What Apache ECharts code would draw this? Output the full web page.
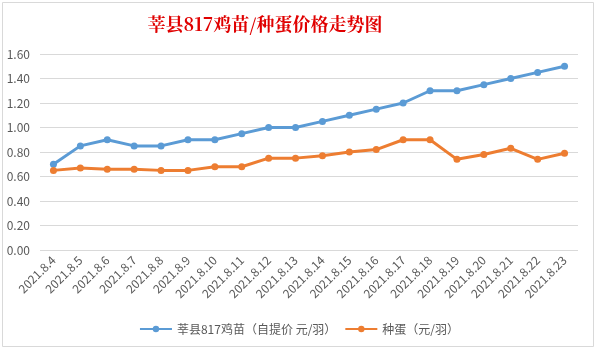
<!DOCTYPE html>
<html><head><meta charset="utf-8">
<script src="https://cdn.jsdelivr.net/npm/echarts@6/dist/echarts.min.js"></script>
<style>html,body{margin:0;padding:0;background:#fff}#c{width:598px;height:350px}</style>
</head><body><div id="c"></div>
<script>
var categories = ['2021.8.4','2021.8.5','2021.8.6','2021.8.7','2021.8.8','2021.8.9','2021.8.10','2021.8.11','2021.8.12','2021.8.13','2021.8.14','2021.8.15','2021.8.16','2021.8.17','2021.8.18','2021.8.19','2021.8.20','2021.8.21','2021.8.22','2021.8.23'];
var chickPrice = [0.70,0.85,0.90,0.85,0.85,0.90,0.90,0.95,1.00,1.00,1.05,1.10,1.15,1.20,1.30,1.30,1.35,1.40,1.45,1.50];
var eggPrice = [0.65,0.67,0.66,0.66,0.65,0.65,0.68,0.68,0.75,0.75,0.77,0.80,0.82,0.90,0.90,0.74,0.78,0.83,0.74,0.79];
var seriesNames = ['莘县817鸡苗（自提价 元/羽）','种蛋（元/羽）'];

var chart = echarts.init(document.getElementById('c'));
var font = '"Microsoft YaHei","Noto Sans CJK SC",sans-serif';
chart.setOption({
  backgroundColor:'#fff',
  animation:false,
  graphic:[{type:'rect',shape:{x:2.5,y:2.5,width:591,height:344},style:{fill:'none',stroke:'#d9d9d9',lineWidth:1}}],
  title:{text:'莘县817鸡苗/种蛋价格走势图',left:260,textAlign:'center',top:10,
    textStyle:{color:'#e00000',fontSize:18,fontWeight:'bold',fontFamily:'"Noto Serif CJK SC","Noto Sans CJK SC",serif'}},
  legend:{bottom:10,left:'center',itemWidth:32,itemHeight:8,itemGap:8,
    textStyle:{color:'#595959',fontSize:12,fontFamily:font},
    data:seriesNames},
  grid:{left:40,right:20,top:54,bottom:100},
  xAxis:{type:'category',data:categories,boundaryGap:true,
    axisLine:{show:false},axisTick:{show:false},
    axisLabel:{rotate:45,color:'#595959',fontSize:12,interval:0,margin:8,fontFamily:font}},
  yAxis:{type:'value',min:0,max:1.6,interval:0.2,
    axisLine:{show:false},axisTick:{show:false},
    splitLine:{lineStyle:{color:'#d9d9d9'}},
    axisLabel:{color:'#595959',fontSize:12,margin:10,formatter:function(v){return v.toFixed(2);},fontFamily:font}},
  series:[
    {name:seriesNames[0],type:'line',data:chickPrice,symbol:'circle',symbolSize:7,
     lineStyle:{color:'#5b9bd5',width:3},itemStyle:{color:'#5b9bd5'}},
    {name:seriesNames[1],type:'line',data:eggPrice,symbol:'circle',symbolSize:7,
     lineStyle:{color:'#ed7d31',width:3},itemStyle:{color:'#ed7d31'}}
  ]
});
</script></body></html>
